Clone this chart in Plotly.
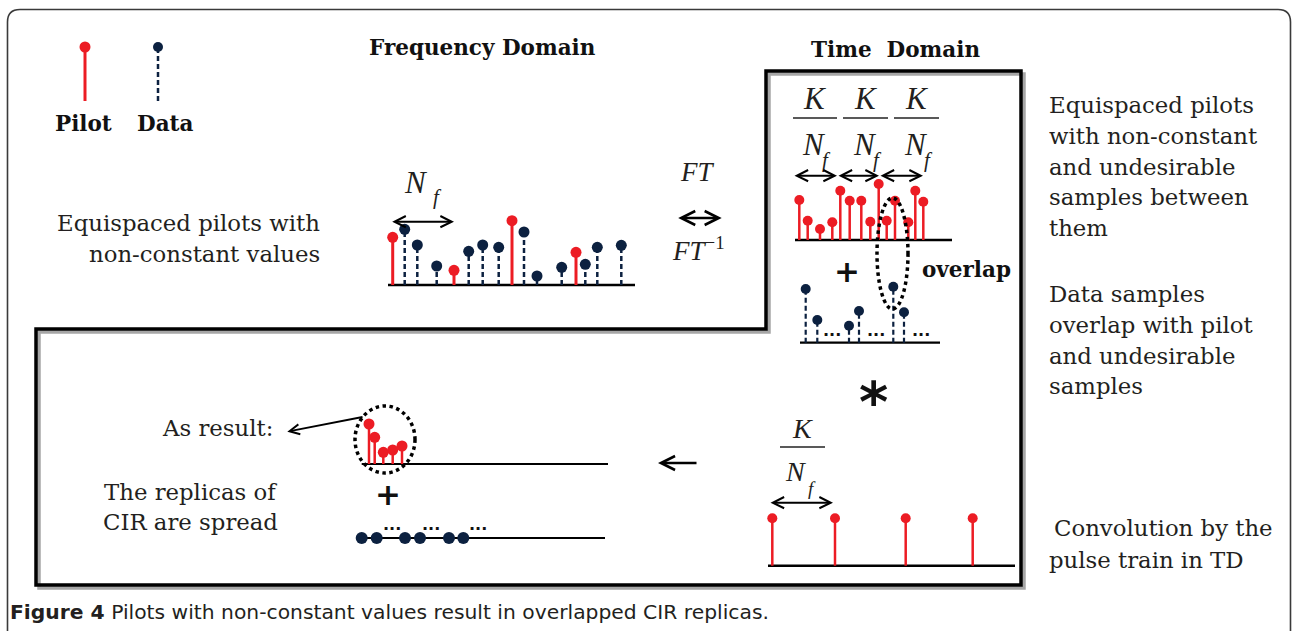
import plotly.graph_objects as go

W, H = 1293, 631

# ---------------- data ----------------
# Frequency-domain comb: relative subcarrier positions, amplitudes, kind (P=pilot, D=data)
FD_POS = [0, 12, 24.6, 44, 61.3, 76, 90, 106, 119.3, 131.3, 144.3, 169, 183.3, 192.6, 204.6, 228.6]
FD_AMP = [47.7, 55.7, 40, 19, 14.7, 33.7, 40, 37.7, 64.3, 53, 9, 17.7, 32.7, 20.7, 37.7, 39.7]
FD_KIND = ["P", "D", "D", "D", "P", "D", "D", "D", "P", "D", "D", "D", "P", "D", "D", "D"]

# Time domain: pilots with undesirable samples between them
TD_PILOT_POS = [0, 8.4, 20.7, 33, 41, 50.4, 62, 71, 79.4, 87.4, 95.7, 109, 116, 124]
TD_PILOT_AMP = [40, 19.3, 11, 17.7, 49.3, 39.3, 39.3, 18.3, 56, 19.3, 39.3, 17.7, 49.3, 38.3]

# Time domain: data samples
TD_DATA_POS = [0, 11.6, 43.3, 53.3, 87.6, 98.3]
TD_DATA_AMP = [53.7, 22.7, 17, 31.7, 56, 30.4]

# Pulse train
PULSE_POS = [0, 62.7, 133.4, 200.4]
PULSE_AMP = [47.4, 47.4, 47.4, 47.4]

# Result: CIR replicas
RES_POS = [0, 5.7, 14.3, 23.7, 33]
RES_AMP = [40, 26.7, 11.7, 14, 18]

# Spread data samples
SPREAD_POS = [0, 15, 43.3, 58.3, 87.3, 101.6]
SPREAD_AMP = [0, 0, 0, 0, 0, 0]

RIGHT_TEXT_1 = ["Equispaced pilots", "with non-constant", "and undesirable", "samples between", "them"]
RIGHT_TEXT_2 = ["Data samples", "overlap with pilot", "and undesirable", "samples"]

# ---------------- styles ----------------
RED = "#ec1c24"
NAVY = "#0c2140"
TXT = "#231f20"
SERIF = "DejaVu Serif"
MATH = "Liberation Serif"
DASH = "5px,3px"

fig = go.Figure()


def add_stems(x0, base, pos, amp, color, lw, ms, dash="solid"):
    xs, ys = [], []
    for p, a in zip(pos, amp):
        xs += [x0 + p, x0 + p, None]
        ys += [base, base - a, None]
    fig.add_trace(go.Scatter(x=xs, y=ys, mode="lines",
                             line=dict(color=color, width=lw, dash=dash),
                             hoverinfo="skip"))
    fig.add_trace(go.Scatter(x=[x0 + p for p in pos], y=[base - a for a in amp],
                             mode="markers", hoverinfo="skip",
                             marker=dict(color=color, size=ms, line=dict(width=0))))


shapes = []


def hline(x0, x1, y, w=2.5, color="black", dash="solid"):
    shapes.append(dict(type="line", x0=x0, x1=x1, y0=y, y1=y, xref="x", yref="y",
                       line=dict(color=color, width=w, dash=dash), layer="below"))


# outer rounded frame
shapes.append(dict(type="path", xref="x", yref="y",
                   path="M 7.5,640 L 7.5,22 Q 7.5,9.5 20,9.5 L 1278,9.5 Q 1290.5,9.5 1290.5,22 L 1290.5,640",
                   line=dict(color="#3a3a3a", width=1.6), layer="below"))
# thick L-shaped frame with shadow
frame = "M {a},{b} L {c},{b} L {c},{d} L {e},{d} L {e},{f} L {a},{f} Z"
shapes.append(dict(type="path", xref="x", yref="y",
                   path=frame.format(a=769, b=74, c=1024, d=588, e=39, f=332),
                   line=dict(color="rgba(0,0,0,0.35)", width=3.5), layer="below"))
shapes.append(dict(type="path", xref="x", yref="y",
                   path=frame.format(a=766, b=71, c=1021, d=585, e=36, f=329),
                   line=dict(color="black", width=3.5), layer="below"))

# baselines
hline(388, 635, 285, 2.5)
hline(795, 952, 240, 2.5)
hline(800, 940, 342.7, 2.2)
hline(768, 1015, 565.7, 2.5)
hline(361.7, 608, 464, 2.2)
hline(356.7, 605, 538, 2.2)

# fraction bars
for xa, xb in [(793, 837), (843, 888), (894, 939)]:
    hline(xa, xb, 118, 1.5, "#222")
hline(780, 825, 447, 1.5, "#222")

# dotted ellipses
shapes.append(dict(type="circle", xref="x", yref="y", x0=877, x1=908, y0=198, y1=309,
                   line=dict(color="black", width=3.5, dash="dot")))
shapes.append(dict(type="circle", xref="x", yref="y", x0=355, x1=415, y0=406, y1=473,
                   line=dict(color="black", width=3.5, dash="dot")))

# ---------------- stems ----------------
# legend
add_stems(85, 101, [0], [54], RED, 3, 11)
add_stems(158, 101, [0], [54], NAVY, 2.5, 10, dash=DASH)

# frequency domain
fp = [p for p, k in zip(FD_POS, FD_KIND) if k == "P"]
fa = [a for a, k in zip(FD_AMP, FD_KIND) if k == "P"]
dp = [p for p, k in zip(FD_POS, FD_KIND) if k == "D"]
da = [a for a, k in zip(FD_AMP, FD_KIND) if k == "D"]
add_stems(392.7, 285, dp, da, NAVY, 2.5, 11, dash=DASH)
add_stems(392.7, 285, fp, fa, RED, 3, 11)

# time domain
add_stems(799.3, 240, TD_PILOT_POS, TD_PILOT_AMP, RED, 2.5, 10)
add_stems(805.7, 342.7, TD_DATA_POS, TD_DATA_AMP, NAVY, 2.2, 10, dash=DASH)
add_stems(772.3, 565.7, PULSE_POS, PULSE_AMP, RED, 2.5, 10)

# result
add_stems(369, 464, RES_POS, RES_AMP, RED, 2.5, 11)
fig.add_trace(go.Scatter(x=[361.7 + p for p in SPREAD_POS], y=[538 - a for a in SPREAD_AMP],
                         mode="markers", hoverinfo="skip",
                         marker=dict(color=NAVY, size=12, line=dict(width=0))))

# ---------------- annotations ----------------
ann = []


def txt(x, y, s, size=22, family=SERIF, xanchor="center", color=TXT, bold=False):
    ann.append(dict(x=x, y=y, xref="x", yref="y", text=(f"<b>{s}</b>" if bold else s),
                    showarrow=False, xanchor=xanchor, yanchor="middle",
                    font=dict(family=family, size=size, color=color)))


def arrow(x_head, y_head, x_tail, y_tail, both=False, w=2):
    ann.append(dict(x=x_head, y=y_head, ax=x_tail, ay=y_tail, xref="x", yref="y",
                    axref="x", ayref="y", text="", showarrow=True,
                    arrowhead=5, startarrowhead=5, arrowsize=1.1, startarrowsize=1.1,
                    arrowwidth=w, arrowcolor="black", standoff=0, startstandoff=0,
                    arrowside="end+start" if both else "end"))


txt(83, 123, "Pilot", 21.5, bold=True, color="#111")
txt(165, 123, "Data", 21.5, bold=True, color="#111")
txt(482, 47, "Frequency Domain", 21.5, bold=True, color="#111")
txt(895, 49, "Time  Domain", 21.5, bold=True, color="#111")

txt(322, 223, "Equispaced pilots with", 22.8, xanchor="right")
txt(322, 254, "non-constant values", 22.8, xanchor="right")

# N_f in frequency domain
txt(416, 182, "<i>N</i>", 31, family=MATH)
txt(437, 197, "<i>f</i>", 21, family=MATH)
arrow(454, 221.7, 390.7, 221.7, both=True)

# FT
txt(697, 172, "<i>FT</i>", 27, family=MATH)
arrow(721.7, 218, 676.7, 218, both=True, w=2.5)
txt(698, 249, "<i>FT</i><sup>−1</sup>", 27, family=MATH)

# K / N_f fractions (time domain)
for cx in [815, 866, 917]:
    txt(cx, 98, "<i>K</i>", 31, family=MATH)
    txt(cx - 1, 144, "<i>N</i>", 31, family=MATH)
    txt(cx + 11, 160, "<i>f</i>", 21, family=MATH)
arrow(837, 175.7, 793, 175.7, both=True)
arrow(879, 175.7, 837, 175.7, both=True)
arrow(923, 175.7, 879, 175.7, both=True)

txt(847, 271, "+", 31, family="DejaVu Sans", bold=True, color="#111")
txt(966, 269, "overlap", 21.5, bold=True, color="#111")
for cx in [832, 876, 921]:
    txt(cx, 330, "...", 16, family="DejaVu Sans", bold=True, color="#111")

txt(873, 401, "*", 56, family="DejaVu Sans", bold=True, color="#111")

# pulse train fraction
txt(802, 428, "<i>K</i>", 28, family=MATH)
txt(795, 471, "<i>N</i>", 28, family=MATH)
txt(812, 488, "<i>f</i>", 19, family=MATH)
arrow(833, 502.7, 769, 502.7, both=True)

# big left arrow
arrow(658, 463, 698, 463, w=2.5)

# result side
txt(275, 428, "As result:", 22.8, xanchor="right")
arrow(287.3, 431.7, 364, 416.7, w=1.8)
txt(190, 492, "The replicas of", 22.8)
txt(190, 522, "CIR are spread", 22.8)
txt(388, 494, "+", 31, family="DejaVu Sans", bold=True, color="#111")
for cx in [392, 431, 478]:
    txt(cx, 524, "...", 16, family="DejaVu Sans", bold=True, color="#111")

# right-side descriptions
for i, s in enumerate(RIGHT_TEXT_1):
    txt(1047, 105 + i * 30.8, s, 22.8, xanchor="left")
for i, s in enumerate(RIGHT_TEXT_2):
    txt(1047, 294 + i * 30.8, s, 22.8, xanchor="left")
txt(1052, 528, "Convolution by the", 22.8, xanchor="left")
txt(1047, 560, "pulse train in TD", 22.8, xanchor="left")

# caption
txt(8, 612, "<b>Figure 4</b> Pilots with non-constant values result in overlapped CIR replicas.",
    20.3, family="DejaVu Sans", xanchor="left")

fig.update_layout(
    width=W, height=H, margin=dict(l=0, r=0, t=0, b=0),
    paper_bgcolor="white", plot_bgcolor="white", showlegend=False,
    xaxis=dict(range=[0, W], visible=False, fixedrange=True),
    yaxis=dict(range=[H, 0], visible=False, fixedrange=True),
    shapes=shapes, annotations=ann,
)
fig.write_html("out.html", config={"displayModeBar": False},
               post_script="document.body.style.margin='0px';document.body.style.overflow='hidden';")
